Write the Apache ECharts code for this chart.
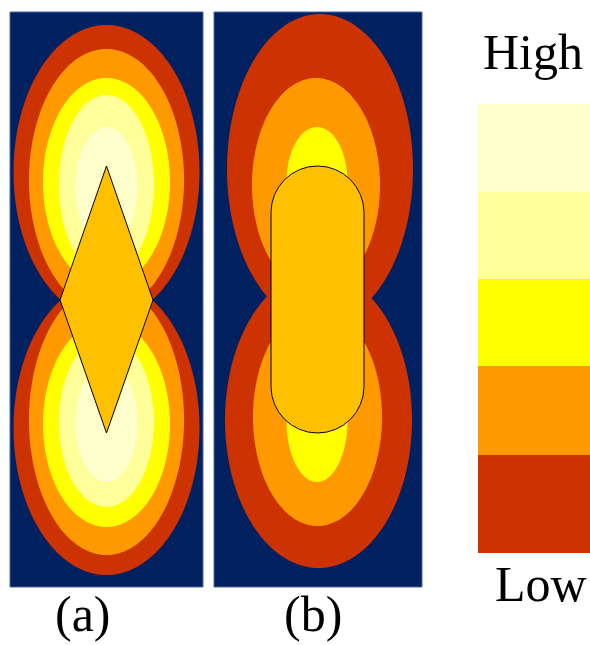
<!DOCTYPE html>
<html>
<head>
<meta charset="utf-8">
<script src="https://cdn.jsdelivr.net/npm/echarts@6/dist/echarts.min.js"></script>
<style>
html,body{margin:0;padding:0;background:#fff;}
#chart{width:590px;height:645px;}
</style>
</head>
<body>
<div id="chart"></div>
<script>
// Level colours, low -> high
const levelColors = ['#CC3300', '#FF9900', '#FFFF00', '#FFFF99', '#FFFFCC'];
const backgroundColor = '#002060';

// Panel frames: [x, y, width, height]
const panelFrames = [
  [10, 12, 193, 575],
  [214, 12, 208, 575]
];

// Contour ellipses: [level, cx, cy, rx, ry]
const contoursA = [
  [0, 106.5, 172, 93, 147], [0, 106.5, 428, 93, 147],
  [1, 106.5, 180, 77.5, 131], [1, 106.5, 420, 77.5, 135],
  [2, 106.5, 182, 63.5, 104], [2, 106.5, 424, 63.5, 103],
  [3, 106.5, 185, 47.5, 90], [3, 106.5, 422, 47.5, 85],
  [4, 106.5, 187, 31, 60], [4, 106.5, 423, 31, 59]
];
const contoursB = [
  [0, 320, 169, 93, 155], [0, 318.5, 420, 93.5, 148],
  [1, 316, 185, 64, 107], [1, 317.5, 417, 64.5, 109],
  [2, 317, 182, 30.5, 55], [2, 317, 421, 30.5, 61]
];

// Obstacle shapes
const diamondPoints = [[106.5, 166], [153, 300], [106.5, 433], [60, 300]];
const stadiumBox = [271, 166, 93, 267]; // x, y, w, h

// Legend bands: [level, top, bottom]
const legendBands = [
  [4, 104, 192], [3, 192, 279], [2, 279, 366], [1, 366, 455], [0, 455, 553]
];
const legendX = [478, 590];

// Labels: [text, x, baselineY]
const labels = [
  ['High', 483, 73], ['Low', 495, 605], ['(a)', 55, 635], ['(b)', 284, 635]
];

const allContours = contoursA.concat(contoursB).slice().sort((a, b) => a[0] - b[0]);

const chart = echarts.init(document.getElementById('chart'), null, {renderer: 'canvas'});

function ellipseItem(params, api) {
  const lv = api.value(0), cx = api.value(1), cy = api.value(2), rx = api.value(3), ry = api.value(4);
  const pts = [];
  const N = 180;
  for (let i = 0; i < N; i++) {
    const t = 2 * Math.PI * i / N;
    pts.push(api.coord([cx + rx * Math.cos(t), cy + ry * Math.sin(t)]));
  }
  return {type: 'polygon', shape: {points: pts}, style: {fill: levelColors[lv], stroke: null}};
}

const option = {
  animation: false,
  backgroundColor: '#ffffff',
  grid: {left: 0, right: 0, top: 0, bottom: 0},
  xAxis: {type: 'value', min: 0, max: 590, show: false},
  yAxis: {type: 'value', min: 0, max: 645, inverse: true, show: false},
  series: [
    {
      type: 'custom', clip: false, silent: true,
      data: panelFrames,
      renderItem(params, api) {
        const p0 = api.coord([api.value(0), api.value(1)]);
        const p1 = api.coord([api.value(0) + api.value(2), api.value(1) + api.value(3)]);
        return {type: 'rect', shape: {x: p0[0], y: p0[1], width: p1[0] - p0[0], height: p1[1] - p0[1]},
          style: {fill: backgroundColor, stroke: '#4a67a0', lineWidth: 1}};
      }
    },
    {
      type: 'custom', clip: false, silent: true,
      data: allContours,
      renderItem: ellipseItem
    },
    {
      type: 'custom', clip: false, silent: true,
      data: [0],
      renderItem(params, api) {
        const pts = diamondPoints.map(p => api.coord(p));
        return {type: 'polygon', shape: {points: pts}, style: {fill: '#FFC000', stroke: '#000', lineWidth: 1}};
      }
    },
    {
      type: 'custom', clip: false, silent: true,
      data: [stadiumBox],
      renderItem(params, api) {
        const p0 = api.coord([api.value(0), api.value(1)]);
        const p1 = api.coord([api.value(0) + api.value(2), api.value(1) + api.value(3)]);
        const w = p1[0] - p0[0];
        return {type: 'rect', shape: {x: p0[0], y: p0[1], width: w, height: p1[1] - p0[1], r: w / 2},
          style: {fill: '#FFC000', stroke: '#000', lineWidth: 1}};
      }
    },
    {
      type: 'custom', clip: false, silent: true,
      data: legendBands,
      renderItem(params, api) {
        const p0 = api.coord([legendX[0], api.value(1)]);
        const p1 = api.coord([legendX[1], api.value(2)]);
        return {type: 'rect', shape: {x: p0[0], y: p0[1], width: p1[0] - p0[0], height: p1[1] - p0[1]},
          style: {fill: levelColors[api.value(0)]}};
      }
    },
    {
      type: 'custom', clip: false, silent: true,
      data: labels.map(l => [l[1], l[2], l[0]]),
      dimensions: ['x', 'y', {name: 't', type: 'ordinal'}],
      renderItem(params, api) {
        const l = labels[params.dataIndex];
        const p = api.coord([l[1], l[2]]);
        return {type: 'text', x: p[0], y: p[1] - 17,
          style: {text: l[0], fill: '#000', font: '50px "Liberation Serif", "Times New Roman", serif',
            align: 'left', verticalAlign: 'middle'}};
      }
    }
  ]
};
chart.setOption(option);
</script>
</body>
</html>
